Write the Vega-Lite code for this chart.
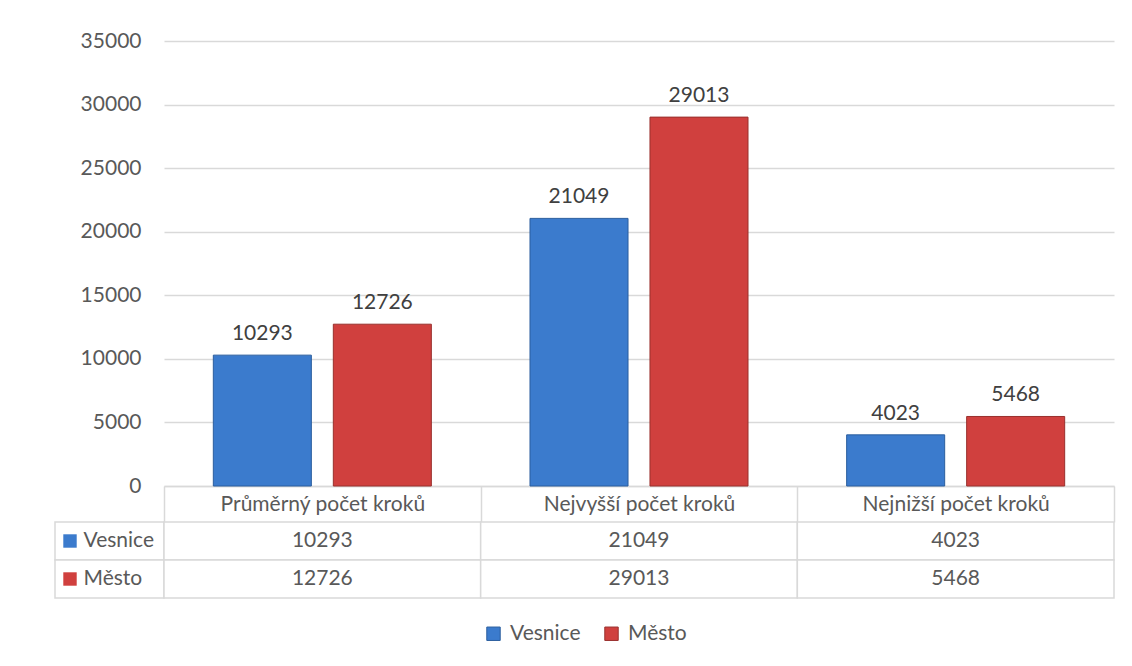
{
  "$schema": "https://vega.github.io/schema/vega-lite/v6.json",
  "background": "white",
  "padding": {"left": 54, "top": 30, "right": 5, "bottom": 5},
  "bounds": "flush",
  "columns": 2,
  "spacing": {"row": 36, "column": 0},
  "config": {
    "font": "Lato",
    "view": {"stroke": null},
    "legend": {"layout": {"bottom": {"anchor": "middle"}}}
  },
  "datasets": {
    "steps": [
      {"kat": "Průměrný počet kroků", "serie": "Vesnice", "hodnota": 10293},
      {"kat": "Průměrný počet kroků", "serie": "Město", "hodnota": 12726},
      {"kat": "Nejvyšší počet kroků", "serie": "Vesnice", "hodnota": 21049},
      {"kat": "Nejvyšší počet kroků", "serie": "Město", "hodnota": 29013},
      {"kat": "Nejnižší počet kroků", "serie": "Vesnice", "hodnota": 4023},
      {"kat": "Nejnižší počet kroků", "serie": "Město", "hodnota": 5468}
    ]
  },
  "concat": [
    {
      "width": 109,
      "height": 445,
      "data": {"values": []},
      "mark": {"type": "rect", "opacity": 0},
      "encoding": {}
    },
    {
      "width": 950,
      "height": 445,
      "data": {"name": "steps"},
      "encoding": {
        "x": {
          "field": "kat", "type": "nominal", "sort": null, "title": null,
          "scale": {"domain": ["Průměrný počet kroků", "Nejvyšší počet kroků", "Nejnižší počet kroků"], "paddingInner": 0, "paddingOuter": 0},
          "axis": {
            "labelAngle": 0, "labelFontSize": 21, "labelColor": "#595959", "labelPadding": -29, "labelLimit": 0,
            "tickBand": "extent", "tickSize": 36, "tickColor": "#d9d9d9", "tickWidth": 1.5,
            "domainColor": "#d9d9d9", "domainWidth": 1.5, "grid": false
          }
        },
        "xOffset": {
          "field": "serie", "type": "nominal",
          "scale": {"domain": ["Vesnice", "Město"], "paddingInner": 0.183, "paddingOuter": 0.411}
        },
        "y": {
          "field": "hodnota", "type": "quantitative", "title": null,
          "scale": {"domain": [0, 35000], "nice": false},
          "axis": {
            "values": [0, 5000, 10000, 15000, 20000, 25000, 30000, 35000], "format": "d",
            "labelFontSize": 21, "labelColor": "#595959", "labelPadding": 23,
            "ticks": false, "domain": false, "gridColor": "#d9d9d9", "gridWidth": 1.5
          }
        }
      },
      "layer": [
        {
          "mark": {"type": "bar", "strokeWidth": 1},
          "encoding": {
            "color": {
              "field": "serie", "type": "nominal", "title": null,
              "scale": {"domain": ["Vesnice", "Město"], "range": ["#3b7bcd", "#d0403e"]},
              "legend": {
                "orient": "bottom", "direction": "horizontal", "symbolType": "square",
                "symbolSize": 180, "symbolStrokeWidth": 1, "labelFontSize": 21, "labelColor": "#595959",
                "labelOffset": 6, "columnPadding": 20, "offset": 24
              }
            },
            "stroke": {
              "field": "serie", "type": "nominal", "legend": null,
              "scale": {"domain": ["Vesnice", "Město"], "range": ["#2b5e9e", "#99302d"]}
            }
          }
        },
        {
          "mark": {"type": "text", "baseline": "bottom", "dy": -11, "fontSize": 21, "color": "#404040"},
          "encoding": {"text": {"field": "hodnota", "type": "quantitative", "format": "d"}}
        }
      ]
    },
    {
      "width": 109,
      "height": 76,
      "data": {"name": "steps"},
      "transform": [{"aggregate": [{"op": "count", "as": "n"}], "groupby": ["serie"]}],
      "encoding": {
        "y": {
          "field": "serie", "type": "nominal", "title": null,
          "scale": {"domain": ["Vesnice", "Město"], "paddingInner": 0, "paddingOuter": 0},
          "axis": {
            "labelAlign": "left", "labelPadding": -28, "labelFontSize": 21, "labelColor": "#595959", "labelLimit": 0,
            "ticks": false, "tickSize": 0, "domain": false, "grid": false
          }
        }
      },
      "layer": [
        {
          "mark": {"type": "rect", "fill": "white", "stroke": "#d9d9d9", "strokeWidth": 1.5}
        },
        {
          "mark": {"type": "point", "shape": "square", "filled": true, "size": 180, "x": 15, "opacity": 1},
          "encoding": {
            "color": {
              "field": "serie", "type": "nominal", "title": null,
              "scale": {"domain": ["Vesnice", "Město"], "range": ["#3b7bcd", "#d0403e"]},
              "legend": {
                "orient": "bottom", "direction": "horizontal", "symbolType": "square",
                "symbolSize": 180, "labelFontSize": 21, "labelColor": "#595959",
                "labelOffset": 6, "columnPadding": 20, "offset": 24
              }
            }
          }
        }
      ]
    },
    {
      "width": 950,
      "height": 76,
      "data": {"name": "steps"},
      "encoding": {
        "x": {
          "field": "kat", "type": "nominal", "sort": null, "title": null,
          "scale": {"domain": ["Průměrný počet kroků", "Nejvyšší počet kroků", "Nejnižší počet kroků"], "paddingInner": 0, "paddingOuter": 0},
          "axis": null
        },
        "y": {
          "field": "serie", "type": "nominal", "title": null,
          "scale": {"domain": ["Vesnice", "Město"], "paddingInner": 0, "paddingOuter": 0},
          "axis": null
        }
      },
      "layer": [
        {"mark": {"type": "rect", "fill": "white", "stroke": "#d9d9d9", "strokeWidth": 1.5}},
        {
          "mark": {"type": "text", "fontSize": 21, "color": "#595959"},
          "encoding": {"text": {"field": "hodnota", "type": "quantitative", "format": "d"}}
        }
      ]
    }
  ]
}
